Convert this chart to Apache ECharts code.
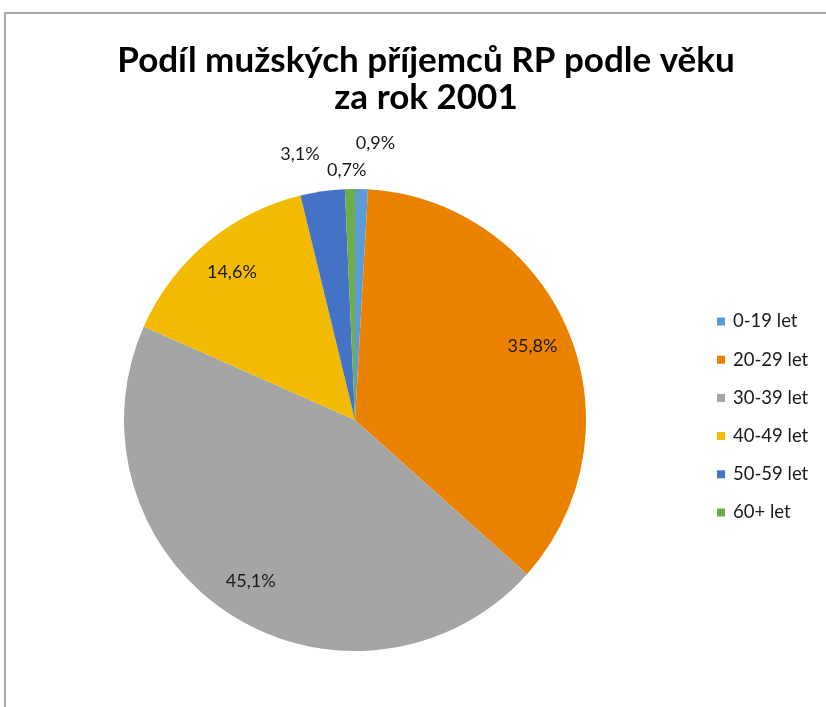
<!DOCTYPE html>
<html>
<head>
<meta charset="utf-8">
<script src="https://cdn.jsdelivr.net/npm/echarts@6/dist/echarts.min.js"></script>
<style>
  html, body { margin: 0; padding: 0; background: #fff; }
  #frame { position: absolute; left: 4px; top: 12px; width: 900px; height: 800px;
           border-top: 2px solid #a8a8a8; border-left: 2px solid #a8a8a8; }
  #main { position: absolute; left: 0; top: 0; width: 826px; height: 707px; }
</style>
</head>
<body>
<div id="frame"></div>
<div id="main"></div>
<script>
// vekove skupiny a podily (%)
var categories = ['0-19 let', '20-29 let', '30-39 let', '40-49 let', '50-59 let', '60+ let'];
var shares = [0.9, 35.8, 45.1, 14.6, 3.1, 0.7];
var colors = ['#5b9bd5', '#ea8200', '#a5a5a5', '#f2ba00', '#4472c4', '#70ad47'];

var fontFamily = 'Lato, "Open Sans", sans-serif';

// posun popisku malych vysecí ven z kolace
var labelShift = { 0: [15, -85], 4: [-28, -76], 5: [-4, -58] };

var pieData = categories.map(function (name, i) {
  return { name: name, value: shares[i] };
});

var chart = echarts.init(document.getElementById('main'));
chart.setOption({
  animation: false,
  color: colors,
  title: {
    text: 'Podíl mužských příjemců RP podle věku\nza rok 2001',
    left: 421,
    top: 37,
    textAlign: 'center',
    textStyle: {
      fontFamily: fontFamily,
      fontWeight: 'bold',
      fontSize: 35,
      lineHeight: 37,
      color: '#000'
    }
  },
  legend: {
    orient: 'vertical',
    left: 712,
    top: 307,
    icon: 'rect',
    itemWidth: 8,
    itemHeight: 8,
    itemGap: 19.2,
    data: categories,
    textStyle: { fontFamily: fontFamily, fontSize: 18.5, lineHeight: 16, color: '#1a1a1a', padding: [0, 0, 0, 3] }
  },
  series: [
    {
      type: 'pie',
      center: [355, 420],
      radius: [0, 231],
      startAngle: 90,
      clockwise: true,
      silent: true,
      label: { show: false },
      labelLine: { show: false },
      itemStyle: { borderWidth: 0 },
      data: pieData
    },
    {
      // pruhledna kopie jen pro popisky (polomer 2x vzdalenost popisku)
      type: 'pie',
      center: [355, 420],
      radius: [0, 378],
      startAngle: 90,
      clockwise: true,
      silent: true,
      legendHoverLink: false,
      itemStyle: { color: 'rgba(0,0,0,0)', borderWidth: 0 },
      label: {
        show: true,
        position: 'inside',
        fontFamily: fontFamily,
        fontSize: 18,
        color: '#1a1a1a',
        formatter: function (p) { return String(p.value.toFixed(1)).replace('.', ',') + '%'; }
      },
      labelLine: { show: false },
      labelLayout: function (p) {
        var s = labelShift[p.dataIndex];
        return s ? { dx: s[0], dy: s[1] } : {};
      },
      data: pieData.map(function (d) { return { name: d.name, value: d.value }; })
    }
  ]
});
</script>
</body>
</html>
